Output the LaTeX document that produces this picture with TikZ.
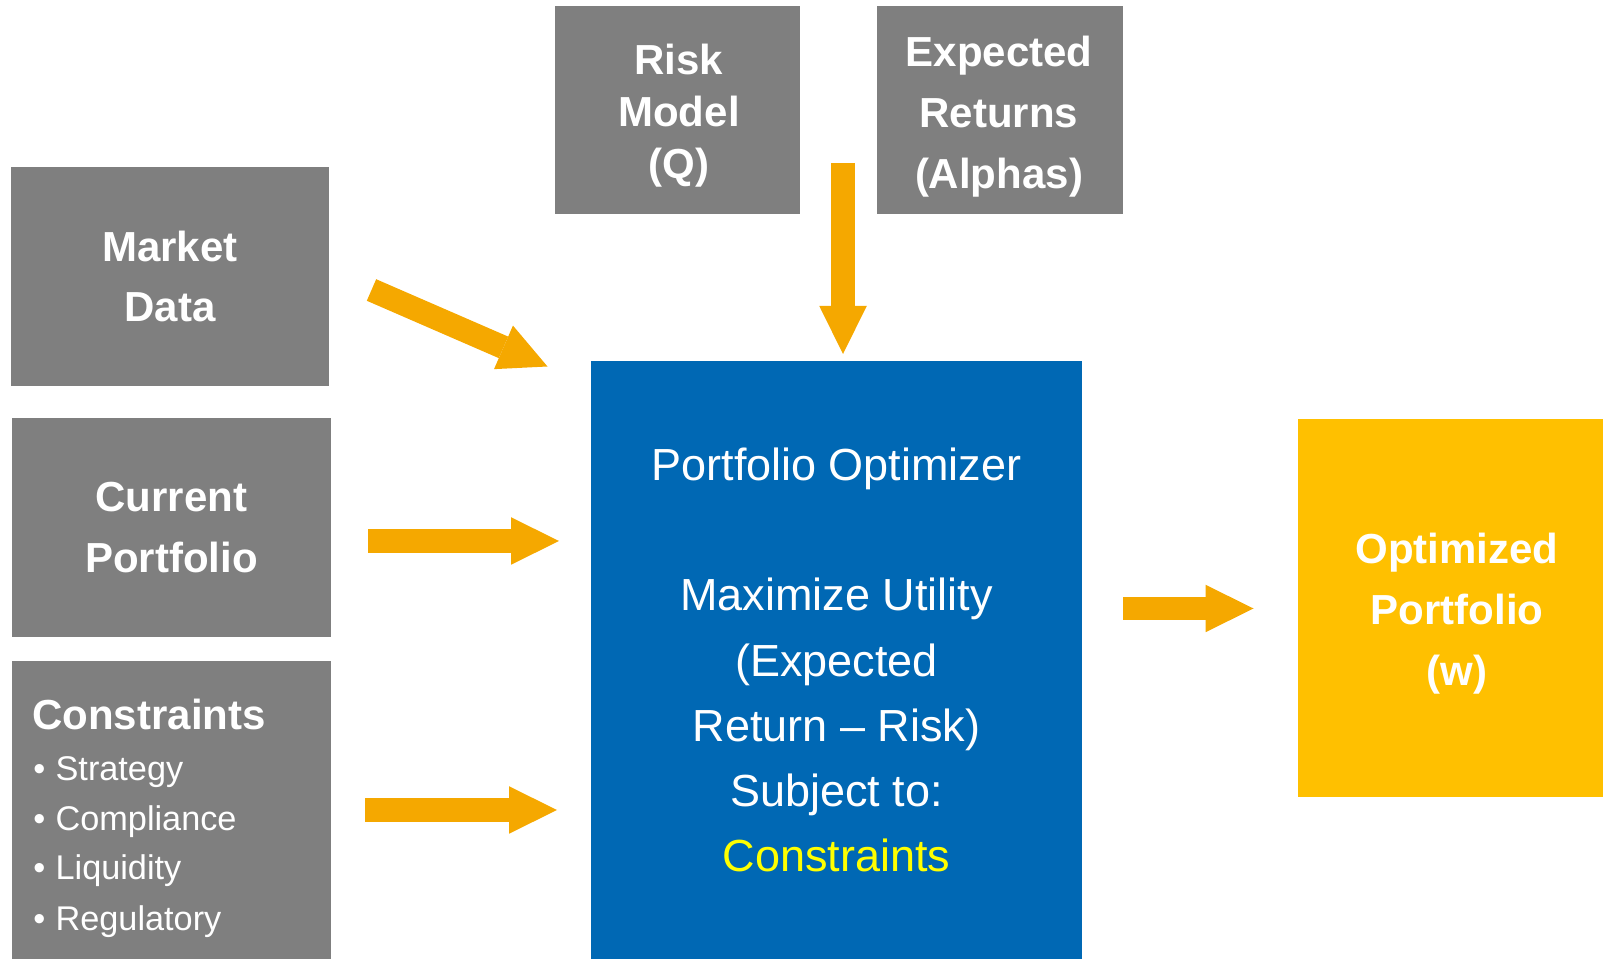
\documentclass[tikz,border=0pt]{standalone}
\usepackage{fontspec}
\setmainfont{Liberation Sans}
\usetikzlibrary{arrows.meta}
\definecolor{boxgray}{HTML}{7F7F7F}
\definecolor{optblue}{HTML}{0068B4}
\definecolor{outyellow}{HTML}{FFC000}
\definecolor{arroworange}{HTML}{F5A800}
\definecolor{hiyellow}{HTML}{FFFF00}

\begin{document}
\begin{tikzpicture}[
        inbox/.style={fill=boxgray, text=white, inner sep=0pt, outer sep=0pt, align=center,
            font=\fontsize{23.9}{34.7}\selectfont\bfseries},
        boxtext/.style={text=white, inner sep=0pt, align=center,
            font=\fontsize{23.9}{34.7}\selectfont\bfseries},
        fat/.style={draw=arroworange, line width=0.47cm,
            -{Triangle[length=0.96cm,width=0.95cm,line width=0pt]}}
    ]
        \useasboundingbox (0.0, 0.0) rectangle (32.06,-19.18);

        % inputs
        \node[inbox, minimum width=4.90cm, minimum height=4.16cm] (risk) at (13.55,-2.20) {};
        \node[boxtext, font=\fontsize{23.9}{29.6}\selectfont\bfseries] (risktxt) at (13.58,-2.32) {Risk\\Model\\(Q)};
        \node[inbox, minimum width=4.92cm, minimum height=4.16cm] (alpha) at (20.00,-2.20) {};
        \node[boxtext] (alphatxt) at (19.98,-2.33) {Expected\\Returns\\(Alphas)};
        \node[inbox, minimum width=6.36cm, minimum height=4.38cm] (market) at ( 3.40,-5.53) {Market\\Data};
        \node[inbox, minimum width=6.38cm, minimum height=4.38cm] (current) at ( 3.43,-10.55) {Current\\Portfolio};
        \node[inbox, minimum width=6.38cm, minimum height=5.96cm] (cons) at ( 3.43,-16.20) {};
        \node[anchor=west, boxtext] (constitle) at ( 0.64,-14.28) {Constraints};
        \foreach \txt/\y [count=\i] in {Strategy/-15.62, Compliance/-16.62, Liquidity/-17.60, Regulatory/-18.60}
            \node[anchor=base west, inner sep=0pt, text=white,
                font=\fontsize{19.5}{28.2}\selectfont] (item\i) at ( 0.66,\y) {\textbullet\hspace{0.3em}\txt};

        % optimizer and output
        \node[fill=optblue, text=white, inner sep=0pt, outer sep=0pt, align=center,
            minimum width=9.82cm, minimum height=11.96cm,
            font=\fontsize{25.6}{37.1}\selectfont] (opt) at (16.73,-13.20)
            {Portfolio Optimizer\\[1.305cm]Maximize Utility\\(Expected\\Return -- Risk)\\Subject to:\\\textcolor{hiyellow}{Constraints}};
        \node[inbox, fill=outyellow, minimum width=6.10cm, minimum height=7.56cm] (out) at (29.01,-12.16) {};
        \node[boxtext] (outtxt) at (29.14,-12.28) {Optimized\\Portfolio\\(w)};

        % block arrows
        \coordinate (md0) at ( 7.43,-5.80);
        \coordinate (md1) at (10.95,-7.33);
        \coordinate (cp0) at ( 7.36,-10.82);
        \coordinate (cp1) at (11.18,-10.82);
        \coordinate (cs0) at ( 7.30,-16.20);
        \coordinate (cs1) at (11.14,-16.20);
        \coordinate (rm0) at (16.86,-3.26);
        \coordinate (rm1) at (16.86,-7.08);
        \coordinate (op0) at (22.46,-12.17);
        \coordinate (op1) at (25.07,-12.17);
        \draw[fat] (md0) -- (md1);
        \draw[fat] (cp0) -- (cp1);
        \draw[fat] (cs0) -- (cs1);
        \draw[fat] (rm0) -- (rm1);
        \draw[fat] (op0) -- (op1);
\end{tikzpicture}
\end{document}
